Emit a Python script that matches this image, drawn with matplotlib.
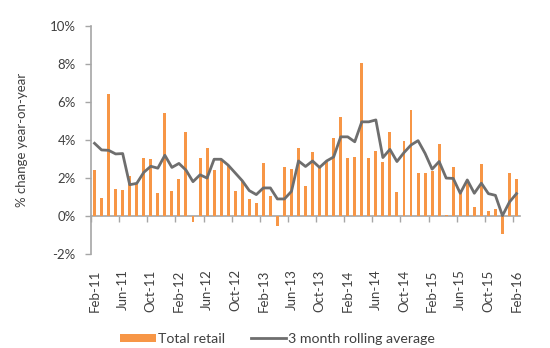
import numpy as np
import matplotlib
matplotlib.use("Agg")
import matplotlib.pyplot as plt

# monthly series, Feb-11 .. Feb-16
months = ["Feb-11", "Mar-11", "Apr-11", "May-11", "Jun-11", "Jul-11", "Aug-11", "Sep-11",
          "Oct-11", "Nov-11", "Dec-11", "Jan-12", "Feb-12", "Mar-12", "Apr-12", "May-12",
          "Jun-12", "Jul-12", "Aug-12", "Sep-12", "Oct-12", "Nov-12", "Dec-12", "Jan-13",
          "Feb-13", "Mar-13", "Apr-13", "May-13", "Jun-13", "Jul-13", "Aug-13", "Sep-13",
          "Oct-13", "Nov-13", "Dec-13", "Jan-14", "Feb-14", "Mar-14", "Apr-14", "May-14",
          "Jun-14", "Jul-14", "Aug-14", "Sep-14", "Oct-14", "Nov-14", "Dec-14", "Jan-15",
          "Feb-15", "Mar-15", "Apr-15", "May-15", "Jun-15", "Jul-15", "Aug-15", "Sep-15",
          "Oct-15", "Nov-15", "Dec-15", "Jan-16", "Feb-16"]

total_retail = [2.4, 0.95, 6.4, 1.45, 1.37, 2.1, 1.75, 3.05, 3.0, 1.23, 5.45, 1.3,
                1.97, 4.4, -0.3, 3.05, 3.6, 2.4, 2.95, 2.65, 1.3, 1.83, 0.9, 0.7,
                2.77, 1.08, -0.52, 2.6, 2.47, 3.6, 1.6, 3.37, 2.56, 2.82, 4.1, 5.2,
                3.05, 3.13, 8.05, 3.04, 3.43, 2.85, 4.4, 1.29, 3.95, 5.6, 2.26, 2.26,
                2.38, 3.8, 0.05, 2.6, 1.25, 1.88, 0.48, 2.75, 0.25, 0.38, -0.96, 2.26,
                1.97]

rolling_avg = [3.83, 3.48, 3.46, 3.27, 3.29, 1.65, 1.72, 2.3, 2.62, 2.52, 3.2, 2.56,
               2.77, 2.42, 1.81, 2.17, 2.0, 2.99, 2.99, 2.68, 2.27, 1.86, 1.34, 1.13,
               1.48, 1.48, 0.9, 0.9, 1.3, 2.9, 2.61, 2.9, 2.56, 2.9, 3.11, 4.17,
               4.17, 3.91, 4.96, 4.96, 5.06, 3.08, 3.51, 2.87, 3.34, 3.74, 3.97, 3.3,
               2.47, 2.87, 2.0, 1.98, 1.2, 1.9, 1.2, 1.73, 1.18, 1.09, 0.02, 0.74,
               1.18]

yticks = [-2, 0, 2, 4, 6, 8, 10]

ORANGE = "#F79646"
LINE_GREY = "#6E6E6E"
AXIS_GREY = "#A6A6A6"
TEXT = "#404040"

plt.rcParams["font.family"] = ["Lato", "DejaVu Sans"]
plt.rcParams["font.size"] = 9.5
plt.rcParams["text.color"] = TEXT

x = np.arange(len(months))

fig = plt.figure(figsize=(5.5, 3.48), dpi=100)
ax = fig.add_axes([0.1655, 0.27, 0.78, 0.655])

bars = ax.bar(x, total_retail, width=0.42, color=ORANGE, label="Total retail", zorder=2)
line, = ax.plot(x, rolling_avg, color=LINE_GREY, lw=2.0,
                label="3 month rolling average", zorder=3)

ax.set_xlim(-0.5, len(months) - 0.5)
ax.set_ylim(yticks[0], yticks[-1])

# y axis
ax.set_yticks(yticks)
ax.set_yticklabels([f"{v}%" for v in yticks])
ax.tick_params(axis="y", direction="out", length=4, width=1, color=AXIS_GREY,
               labelcolor=TEXT, pad=7, labelsize=9.5)
ax.set_ylabel("% change year-on-year", color=TEXT, fontsize=9.5, labelpad=16)

# month labels along the bottom, no tick marks
ax.set_xticks(x[::4])
ax.set_xticklabels(months[::4], rotation=90)
ax.tick_params(axis="x", length=0, pad=11, labelcolor=TEXT, labelsize=9.5)

for side in ("top", "right", "bottom"):
    ax.spines[side].set_visible(False)
ax.spines["left"].set_color(AXIS_GREY)
ax.spines["left"].set_linewidth(1.2)

# category axis drawn through zero, ticks between categories
zero_pos = (0 - yticks[0]) / (yticks[-1] - yticks[0])
cat = ax.secondary_xaxis(zero_pos)
cat.set_xticks(np.arange(-0.5, len(months) - 1, 4))
cat.set_xticklabels([])
cat.tick_params(axis="x", direction="out", length=4, width=1, color=AXIS_GREY)
cat.spines["bottom"].set_color(AXIS_GREY)
cat.spines["bottom"].set_linewidth(1.2)

fig.legend([bars, line], ["Total retail", "3 month rolling average"], loc="center",
           bbox_to_anchor=(0.505, 0.027), ncol=2, frameon=False, fontsize=10.2,
           handlelength=2.5, handleheight=0.5, columnspacing=1.8, handletextpad=0.15)

fig.savefig("out.png", dpi=100)
